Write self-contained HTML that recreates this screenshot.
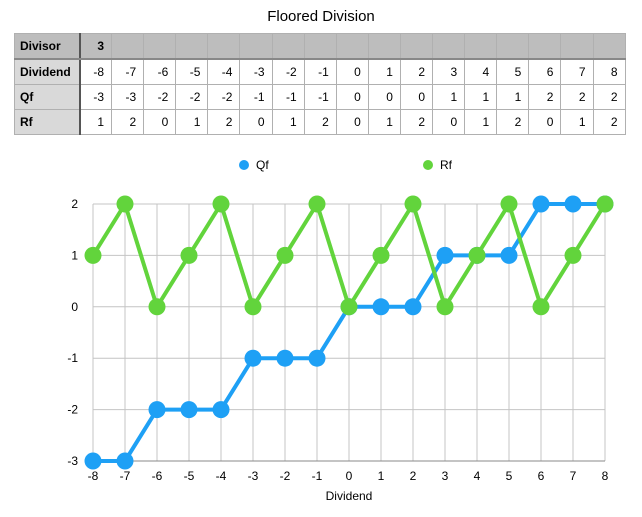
<!DOCTYPE html>
<html><head><meta charset="utf-8"><style>
body{margin:0;background:#fff;font-family:"Liberation Sans",sans-serif;}
#wrap{position:relative;width:642px;height:517px;overflow:hidden}
#title{position:absolute;left:0;width:642px;top:8px;text-align:center;font-size:15px;color:#000}
table{position:absolute;left:14px;top:33px;width:611px;border-collapse:collapse;font-size:12px;table-layout:fixed}
td{border:1px solid #b0b0b0;text-align:right;padding:0 7px 0 0;height:24px;overflow:hidden;white-space:nowrap}
td.h{text-align:left;padding-left:5px;font-weight:bold;background:#d9d9d9;border-right:2px solid #555}
tr.div td{background:#bdbdbd;border-bottom:2px solid #888}
tr.div td.h{background:#bdbdbd}
</style></head><body>
<div id="wrap">
<div id="title">Floored Division</div>
<table id="tbl"><colgroup id="cg"></colgroup></table>
<svg id="svg" width="642" height="517" style="position:absolute;left:0;top:0"></svg>
</div>
<script>
const dividend=[-8,-7,-6,-5,-4,-3,-2,-1,0,1,2,3,4,5,6,7,8];
const qf=[-3,-3,-2,-2,-2,-1,-1,-1,0,0,0,1,1,1,2,2,2];
const rf=[1,2,0,1,2,0,1,2,0,1,2,0,1,2,0,1,2];
const yTicks=[2,1,0,-1,-2,-3];
const divisor=3;

const tbl=document.getElementById('tbl');
const cg=document.getElementById('cg');
let c=document.createElement('col');c.style.width='65px';cg.appendChild(c);
for(let i=0;i<17;i++){c=document.createElement('col');c.style.width='32.1px';cg.appendChild(c);}
function row(label,vals,cls,name,h){
  const tr=document.createElement('tr');
  if(cls)tr.className=cls;
  
  
  let s='<td class="h" style="height:'+h+'px">'+label+'</td>';
  for(let i=0;i<17;i++)s+='<td>'+(vals[i]!==undefined?vals[i]:'')+'</td>';
  tr.innerHTML=s;tbl.appendChild(tr);
}
row('Divisor',['<b>'+divisor+'</b>'],'div','divisor-row',24);
row('Dividend',dividend,'','dividend-row',24);
row('Qf',qf,'','qf-row',23);
row('Rf',rf,'','rf-row',23);

const svg=document.getElementById('svg');const NS='http://www.w3.org/2000/svg';
const X0=93,X1=605,Y0=204,Y1=461;
const xs=v=>X0+(v+8)*(X1-X0)/16;
const ys=v=>Y0+(2-v)*(Y1-Y0)/5;
function el(t,a,name){const e=document.createElementNS(NS,t);for(const k in a)e.setAttribute(k,a[k]);


svg.appendChild(e);return e;}
dividend.forEach(d=>{
  el('line',{x1:xs(d),x2:xs(d),y1:Y0,y2:Y1,stroke:'#c4c4c4','stroke-width':1},'x-gridline');
  const t=el('text',{x:xs(d),y:480,'text-anchor':'middle','font-size':12,fill:'#000'},'x-tick-label');t.textContent=d;
});
yTicks.forEach(v=>{
  el('line',{x1:X0,x2:X1,y1:ys(v),y2:ys(v),stroke:v===-3?'#888':'#c4c4c4','stroke-width':1},'y-gridline');
  const t=el('text',{x:78,y:ys(v)+4,'text-anchor':'end','font-size':12,fill:'#000'},'y-tick-label');t.textContent=v;
});
const xt=el('text',{x:349,y:500,'text-anchor':'middle','font-size':12},'x-axis-title');xt.textContent='Dividend';
function series(vals,color,name){
  el('polyline',{points:dividend.map((d,i)=>xs(d)+','+ys(vals[i])).join(' '),fill:'none',stroke:color,'stroke-width':4,'stroke-linejoin':'round'},name+'-line');
  dividend.forEach((d,i)=>el('circle',{cx:xs(d),cy:ys(vals[i]),r:8.5,fill:color},name+'-point'));
}
series(qf,'#1ea0f5','qf');
series(rf,'#62d43c','rf');
el('circle',{cx:244,cy:165,r:5,fill:'#1ea0f5'},'legend-qf-marker');
let t=el('text',{x:256,y:169,'font-size':12},'legend-qf-label');t.textContent='Qf';
el('circle',{cx:428,cy:165,r:5,fill:'#62d43c'},'legend-rf-marker');
t=el('text',{x:440,y:169,'font-size':12},'legend-rf-label');t.textContent='Rf';
</script>
</body></html>
